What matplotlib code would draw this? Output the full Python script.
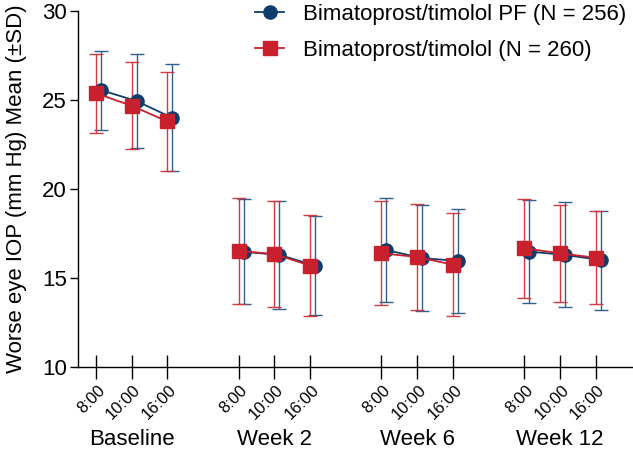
import matplotlib
matplotlib.use("Agg")
import matplotlib.pyplot as plt
import numpy as np

plt.rcParams["font.family"] = ["Liberation Sans", "DejaVu Sans"]

groups = ["Baseline", "Week 2", "Week 6", "Week 12"]
times = ["8:00", "10:00", "16:00"]

pf_label = "Bimatoprost/timolol PF (N = 256)"
pf_mean = [25.56, 24.94, 24.00, 16.47, 16.30, 15.70, 16.57, 16.12, 15.96, 16.48, 16.30, 16.01]
pf_sd = [2.22, 2.66, 3.00, 2.95, 3.03, 2.79, 2.90, 3.00, 2.92, 2.90, 2.95, 2.78]

bt_label = "Bimatoprost/timolol (N = 260)"
bt_mean = [25.38, 24.68, 23.80, 16.52, 16.35, 15.70, 16.39, 16.18, 15.75, 16.67, 16.39, 16.14]
bt_sd = [2.21, 2.46, 2.78, 2.98, 2.97, 2.84, 2.93, 3.00, 2.88, 2.79, 2.72, 2.62]

BLUE = "#0f3d6b"
BLUE_BAR = "#2f5f8e"
RED = "#c8202d"
RED_BAR = "#d23a42"

# positions: 3 time points per visit, gap of one slot between visits
pos = np.array([g * 4 + t for g in range(len(groups)) for t in range(len(times))], dtype=float)

fig = plt.figure(figsize=(6.33, 4.54), dpi=100)
ax = fig.add_axes([0.1232, 0.1916, 0.8768, 0.7842])

for g in range(len(groups)):
    sl = slice(g * 3, g * 3 + 3)
    xb = pos[sl] + 0.14
    xr = pos[sl]
    ax.errorbar(xb, pf_mean[sl], yerr=pf_sd[sl], fmt="none", ecolor=BLUE_BAR,
                elinewidth=1.0, capsize=5, capthick=1.0, zorder=2)
    ax.errorbar(xr, bt_mean[sl], yerr=bt_sd[sl], fmt="none", ecolor=RED_BAR,
                elinewidth=1.0, capsize=5, capthick=1.0, zorder=2)
    ax.plot(xb, pf_mean[sl], color=BLUE, lw=1.3, marker="o", ms=9.5,
            label=pf_label if g == 0 else None, zorder=3)
    ax.plot(xr, bt_mean[sl], color=RED, lw=1.3, marker="s", ms=9.5,
            label=bt_label if g == 0 else None, zorder=4)

ax.set_xlim(-0.5, 15.05)
ax.set_ylim(10, 30)
ax.set_yticks([10, 15, 20, 25, 30])
ax.set_xticks(pos)
ax.set_xticklabels([])
for p, t in zip(pos, times * len(groups)):
    ax.annotate(t, xy=(p, 0), xycoords=ax.get_xaxis_transform(),
                xytext=(1, -11), textcoords="offset points",
                rotation=45, rotation_mode="anchor", ha="right", va="top",
                fontsize=12)
for g, name in enumerate(groups):
    ax.text(g * 4 + 1, -0.205, name, transform=ax.get_xaxis_transform(),
            ha="center", va="center", fontsize=16)

for side in ["top", "right"]:
    ax.spines[side].set_visible(False)
for side in ["left", "bottom"]:
    ax.spines[side].set_linewidth(1.0)
ax.tick_params(axis="x", direction="inout", length=17, width=1.0)
ax.tick_params(axis="y", direction="out", length=6, width=1.0, labelsize=16, pad=2)

ax.set_ylabel("Worse eye IOP (mm Hg) Mean (\u00b1SD)", fontsize=16, labelpad=11)

ax.legend(loc="upper left", bbox_to_anchor=(0.403, 0.992), bbox_transform=fig.transFigure,
          frameon=False, fontsize=16, handlelength=1.3, handletextpad=0.85,
          borderpad=0, borderaxespad=0, labelspacing=0.7)

fig.savefig("out.png", dpi=100)
